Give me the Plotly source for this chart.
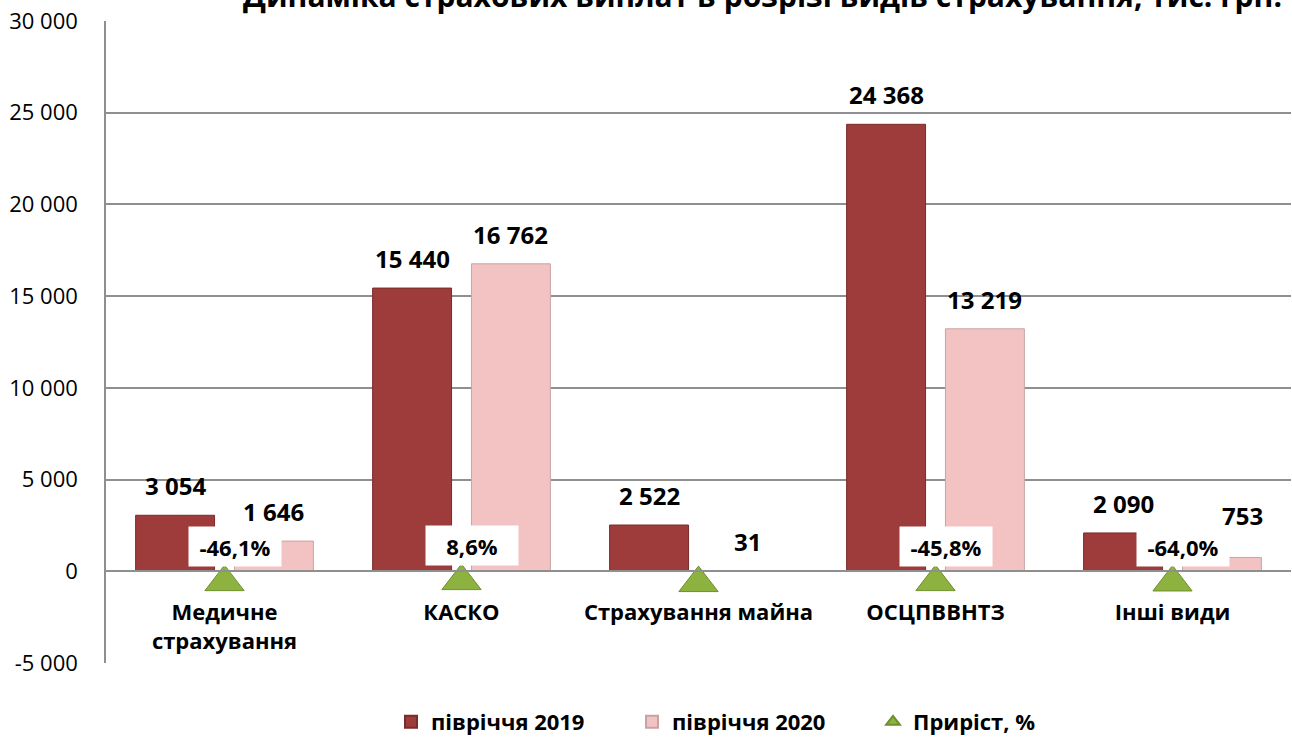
import plotly.graph_objects as go

# ---------------- data ----------------
categories = ["Медичне<br>страхування", "КАСКО", "Страхування майна", "ОСЦПВВНТЗ", "Інші види"]
v2019 = [3054, 15440, 2522, 24368, 2090]
v2020 = [1646, 16762, 31, 13219, 753]
growth = [-46.1, 8.6, -98.8, -45.8, -64.0]
hidden_growth_labels = ["Страхування майна"]
y_ticks = [-5000, 0, 5000, 10000, 15000, 20000, 25000, 30000]
title_text = "Динаміка страхових виплат в розрізі видів страхування, тис. грн."
series_names = ["півріччя 2019", "півріччя 2020", "Приріст, %"]

# ---------------- style ----------------
FONT = "Open Sans"
DARK = "#9E3B3B"
DARK_LINE = "#7A2B2B"
PINK = "#F3C3C3"
PINK_LINE = "#C9A3A3"
GREEN = "#8DB23F"
GREEN_LINE = "#6F8F2F"
GRID = "#8F8F8F"

W, H = 1292, 740
ML, MR, MT, MB = 106, 1, 21, 77
Y_RANGE = [-5000, 30000]
MARKER_SHIFT = 545  # lowers the triangle markers slightly below zero line

bar_w = 0.333
gap_half = 0.042
PLOT_W = W - ML - MR
PLOT_H = H - MT - MB


def fmt_num(v):
    return f"{v:,}".replace(",", " ")


def fmt_pct(g):
    return f"{g:.1f}%".replace(".", ",")


fig = go.Figure()
fig.add_trace(go.Bar(
    x=categories, y=v2019, name=series_names[0],
    width=bar_w, offset=-(bar_w + gap_half),
    marker=dict(color=DARK, line=dict(color=DARK_LINE, width=1)),
))
fig.add_trace(go.Bar(
    x=categories, y=v2020, name=series_names[1],
    width=bar_w, offset=gap_half,
    marker=dict(color=PINK, line=dict(color=PINK_LINE, width=1)),
))
fig.add_trace(go.Scatter(
    x=categories, y=growth, name=series_names[2], yaxis="y2",
    mode="markers",
    marker=dict(symbol="triangle-up", size=34, color=GREEN,
                line=dict(color=GREEN_LINE, width=1)),
))

annotations = []
px_per_cat = PLOT_W / len(categories)
bar_off_px = (bar_w / 2 + gap_half) * px_per_cat
label_nudge = {("2020", "Інші види"): (21, 12)}

for cat, a, b in zip(categories, v2019, v2020):
    for val, sign, key in ((a, -1, "2019"), (b, 1, "2020")):
        dx, dy = label_nudge.get((key, cat), (0, 0))
        annotations.append(dict(
            x=cat, y=val, xref="x", yref="y",
            text=fmt_num(val), showarrow=False,
            xanchor="center", yanchor="bottom",
            xshift=sign * bar_off_px + dx, yshift=11 + dy,
            font=dict(family=FONT, size=24, color="#000000", weight="bold"),
        ))

for cat, g in zip(categories, growth):
    if cat in hidden_growth_labels:
        continue
    annotations.append(dict(
        x=cat, y=g, xref="x", yref="y2",
        text=fmt_pct(g), showarrow=False,
        xanchor="center", yanchor="middle",
        xshift=10, yshift=36,
        width=84, height=31,
        bgcolor="#FFFFFF", borderpad=4,
        font=dict(family=FONT, size=22, color="#000000", weight="bold"),
    ))

annotations.append(dict(
    x=(762 - ML) / PLOT_W, y=1, xref="paper", yref="paper",
    text=title_text, showarrow=False, xanchor="center", yanchor="middle",
    yshift=26,
    font=dict(family=FONT, size=30, color="#000000", weight="bold"),
))

fig.update_layout(
    width=W, height=H,
    margin=dict(l=ML, r=MR, t=MT, b=MB, pad=0, autoexpand=False),
    paper_bgcolor="#FFFFFF", plot_bgcolor="#FFFFFF",
    barmode="overlay",
    showlegend=True,
    legend=dict(
        orientation="h", xref="container", x=(417 - 26) / W, xanchor="left",
        yref="container", y=1 - 722 / H, yanchor="middle",
        font=dict(family=FONT, size=22, color="#000000", weight="bold"),
        entrywidth=196, entrywidthmode="pixels",
        itemsizing="constant",
    ),
    xaxis=dict(
        type="category", range=[-0.5, len(categories) - 0.5],
        anchor="free", position=(0 - Y_RANGE[0]) / (Y_RANGE[1] - Y_RANGE[0]),
        showline=True, linecolor=GRID, linewidth=1.5,
        showgrid=False, ticks="", ticklabelstandoff=22,
        tickfont=dict(family=FONT, size=22, color="#000000", weight="bold"),
    ),
    yaxis=dict(
        range=Y_RANGE, tickvals=y_ticks,
        ticktext=[fmt_num(t) for t in y_ticks],
        showgrid=True, gridcolor=GRID, gridwidth=1.5,
        zeroline=False,
        showline=True, linecolor=GRID, linewidth=1.5,
        ticks="", ticklabelstandoff=22,
        tickfont=dict(family=FONT, size=22, color="#000000"),
    ),
    yaxis2=dict(
        overlaying="y", range=[Y_RANGE[0] + MARKER_SHIFT, Y_RANGE[1] + MARKER_SHIFT],
        visible=False,
    ),
    annotations=annotations,
)

fig.write_html("out.html", config={"displayModeBar": False},
               post_script="document.body.style.margin='0';")
